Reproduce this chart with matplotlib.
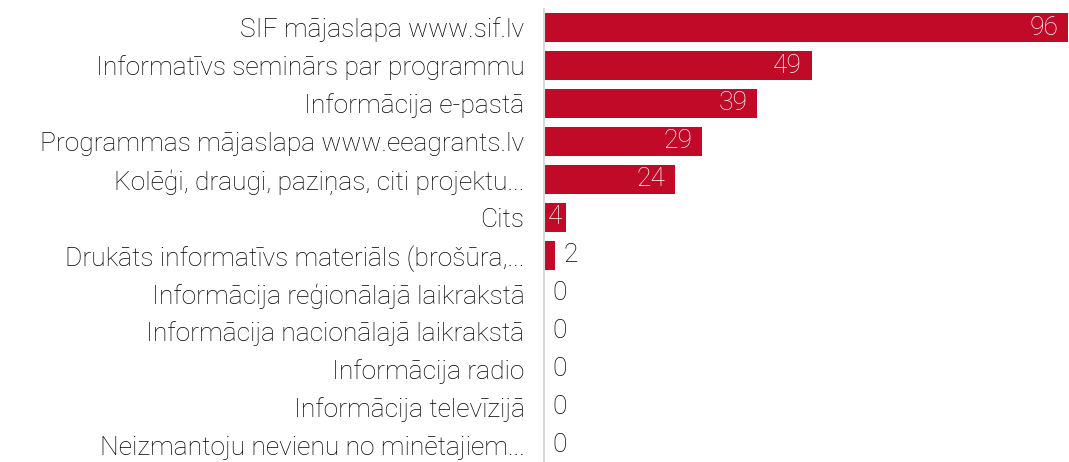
import matplotlib.pyplot as plt

# data
labels = ['SIF mājaslapa www.sif.lv',
          'Informatīvs seminārs par programmu',
          'Informācija e-pastā',
          'Programmas mājaslapa www.eeagrants.lv',
          'Kolēģi, draugi, paziņas, citi projektu...',
          'Cits',
          'Drukāts informatīvs materiāls (brošūra,...',
          'Informācija reģionālajā laikrakstā',
          'Informācija nacionālajā laikrakstā',
          'Informācija radio',
          'Informācija televīzijā',
          'Neizmantoju nevienu no minētajiem...']
values = [96, 49, 39, 29, 24, 4, 2, 0, 0, 0, 0, 0]

plt.rcParams['font.family'] = ['Roboto', 'DejaVu Sans']

red = '#c00a28'
fig = plt.figure(figsize=(10.69, 4.62), dpi=100)
ax = fig.add_axes([0.5089, -0.0054, 0.4903, 0.987])

ypos = list(range(len(values)))
ax.barh(ypos, values, height=0.76, color=red)
ax.set_ylim(len(values) - 0.5, -0.5)
ax.set_xlim(0, 96)

ax.set_yticks(ypos)
ax.set_yticklabels(labels, fontsize=19, fontweight='light', color='black')
ax.tick_params(axis='y', length=0, pad=14)
ax.set_xticks([])
for s in ['top', 'right', 'bottom']:
    ax.spines[s].set_visible(False)
ax.spines['left'].set_color('#d9d9d9')
ax.spines['left'].set_linewidth(1.5)

for y, v in zip(ypos, values):
    if v >= 10:
        ax.annotate(str(v), (v, y), xytext=(-7, 0), textcoords='offset points',
                    ha='right', va='center', fontsize=19, fontweight='light',
                    color='white')
    elif v >= 4:
        # narrow bar: number sits in the middle
        ax.text(v / 2, y, str(v), ha='center', va='center', fontsize=19,
                fontweight='light', color='white')
    else:
        ax.annotate(str(v), (v, y), xytext=(6, 0), textcoords='offset points',
                    ha='left', va='center', fontsize=19, fontweight='light',
                    color='black')

fig.savefig('out.png', dpi=100)
